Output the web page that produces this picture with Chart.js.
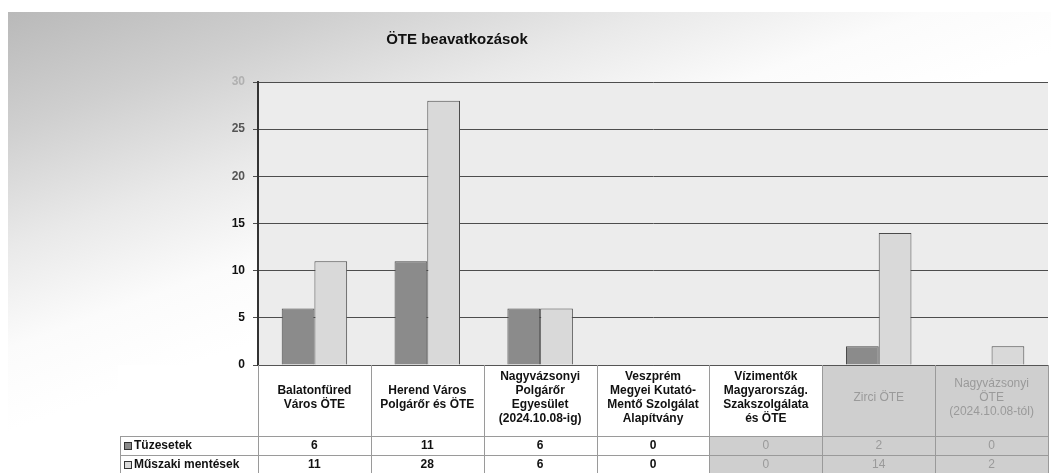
<!DOCTYPE html>
<html>
<head>
<meta charset="utf-8">
<script src="https://cdn.jsdelivr.net/npm/chart.js@4.4.1/dist/chart.umd.min.js"></script>
<style>
  html, body { margin: 0; padding: 0; background: #fff; }
  #wrap { position: relative; width: 1051px; height: 473px; overflow: hidden; }
  #shade { position: absolute; left: 8px; top: 12px; width: 1043px; height: 461px;
    background: linear-gradient(160deg, #b9b9b9 0%, #cfcfcf 14%, #e9e9e9 28%, #fbfbfb 40%, #fff 50%); }
  canvas { position: absolute; left: 0; top: 0; }
</style>
</head>
<body>
<div id="wrap">
  <div id="shade"></div>
  <canvas id="myChart" width="1051" height="473"></canvas>
</div>
<script>
var labels = [
    ['Balatonfüred', 'Város ÖTE'],
    ['Herend Város', 'Polgárőr és ÖTE'],
    ['Nagyvázsonyi', 'Polgárőr', 'Egyesület', '(2024.10.08-ig)'],
    ['Veszprém', 'Megyei Kutató-', 'Mentő Szolgálat', 'Alapítvány'],
    ['Vízimentők', 'Magyarország.', 'Szakszolgálata', 'és ÖTE'],
    ['Zirci ÖTE'],
    ['Nagyvázsonyi', 'ÖTE', '(2024.10.08-tól)']
];
var tuzesetek = [6, 11, 6, 0, 0, 2, 0];
var muszaki = [11, 28, 6, 0, 0, 14, 2];
var seriesNames = ['Tüzesetek', 'Műszaki mentések'];

var darkFill = '#8b8b8b';
var lightFill = '#d9d9d9';
var fontFam = '"Liberation Sans", Arial, sans-serif';

var ctx = document.getElementById('myChart').getContext('2d');

// plot background + faded cells of the table
var backPlugin = {
    id: 'backPlugin',
    beforeDraw: function (chart) {
        var a = chart.chartArea, c = chart.ctx, x = chart.scales.x;
        var half = (x.getPixelForValue(1) - x.getPixelForValue(0)) / 2;
        c.save();
        c.fillStyle = '#ececec';
        c.fillRect(a.left, a.top, a.right - a.left, a.bottom - a.top);
        c.fillStyle = '#fff';
        c.fillRect(118, a.bottom, a.right - 118, chart.height - a.bottom);
        c.fillStyle = '#cfcfcf';
        for (var i = 5; i < labels.length; i++) {
            var px = x.getPixelForValue(i);
            c.fillRect(px - half, a.bottom, half * 2, chart.height - a.bottom);
        }
        var p4 = x.getPixelForValue(4);
        c.fillRect(p4 - half, a.bottom + 71, half * 2, chart.height);
        c.restore();
    }
};

// title + data table under the axis
var tablePlugin = {
    id: 'tablePlugin',
    afterDraw: function (chart) {
        var a = chart.chartArea, c = chart.ctx, x = chart.scales.x;
        var half = (x.getPixelForValue(1) - x.getPixelForValue(0)) / 2;
        var hdrBottom = a.bottom + 71;
        var row1 = hdrBottom + 19;
        var row2 = chart.height;
        c.save();
        c.font = 'bold 15px ' + fontFam;
        c.fillStyle = '#111';
        c.textAlign = 'center';
        c.textBaseline = 'middle';
        c.fillText('ÖTE beavatkozások', a.left + 199, 40);

        c.strokeStyle = '#9a9a9a';
        c.lineWidth = 1;
        c.beginPath();
        for (var i = 0; i <= labels.length; i++) {
            var bx = Math.round(x.getPixelForValue(0) - half + i * half * 2) + 0.5;
            c.moveTo(bx, a.bottom);
            c.lineTo(bx, row2);
        }
        c.moveTo(120, hdrBottom + 0.5); c.lineTo(a.right, hdrBottom + 0.5);
        c.moveTo(120, row1 + 0.5); c.lineTo(a.right, row1 + 0.5);
        c.moveTo(120.5, hdrBottom); c.lineTo(120.5, row2);
        c.stroke();

        var rows = [tuzesetek, muszaki];
        var fills = [darkFill, lightFill];
        var ys = [hdrBottom + 10, row1 + 10];
        c.font = 'bold 12px ' + fontFam;
        for (var r = 0; r < rows.length; r++) {
            c.fillStyle = fills[r];
            c.fillRect(124, ys[r] - 4, 8, 8);
            c.strokeStyle = '#333';
            c.strokeRect(124.5, ys[r] - 3.5, 7, 7);
            c.fillStyle = '#111';
            c.textAlign = 'left';
            c.fillText(seriesNames[r], 134, ys[r]);
            c.textAlign = 'center';
            for (var k = 0; k < rows[r].length; k++) {
                c.fillStyle = k >= 4 ? '#9a9a9a' : '#111';
                c.font = (k >= 4 ? '' : 'bold ') + '12px ' + fontFam;
                c.fillText(String(rows[r][k]), x.getPixelForValue(k), ys[r]);
            }
            c.font = 'bold 12px ' + fontFam;
        }
        c.restore();
    }
};

var chart = new Chart(ctx, {
    type: 'bar',
    data: {
        labels: labels,
        datasets: [
            {
                label: seriesNames[0],
                data: tuzesetek,
                backgroundColor: darkFill,
                borderColor: '#4a4a4a',
                borderWidth: 1
            },
            {
                label: seriesNames[1],
                data: muszaki,
                backgroundColor: lightFill,
                borderColor: '#4a4a4a',
                borderWidth: 1
            }
        ]
    },
    options: {
        responsive: false,
        animation: false,
        layout: { padding: { top: 82, right: 3, bottom: 37, left: 0 } },
        plugins: {
            legend: { display: false },
            title: { display: false },
            tooltip: { enabled: false }
        },
        datasets: {
            bar: { categoryPercentage: 0.58, barPercentage: 1 }
        },
        scales: {
            x: {
                grid: { display: false },
                border: { display: true, color: '#555' },
                ticks: {
                    autoSkip: false,
                    maxRotation: 0,
                    padding: 4,
                    crossAlign: 'center',
                    font: function (c) {
                        return { family: fontFam, size: 12, weight: c.index >= 5 ? 'normal' : 'bold', lineHeight: 1.17 };
                    },
                    color: function (c) { return c.index >= 5 ? '#9a9a9a' : '#111'; }
                },
                afterFit: function (scale) { scale.height = 71; }
            },
            y: {
                min: 0,
                max: 30,
                ticks: {
                    stepSize: 5,
                    padding: 8,
                    font: { family: fontFam, size: 12, weight: 'bold' },
                    color: function (c) {
                        if (c.tick.value === 30) return '#b0b0b0';
                        if (c.tick.value >= 20) return '#555';
                        return '#111';
                    }
                },
                grid: { color: '#4d4d4d', lineWidth: 1, tickLength: 5 },
                border: { display: true, color: '#333', width: 2 },
                afterFit: function (scale) { scale.width = 258; }
            }
        }
    },
    plugins: [backPlugin, tablePlugin]
});
</script>
</body>
</html>
